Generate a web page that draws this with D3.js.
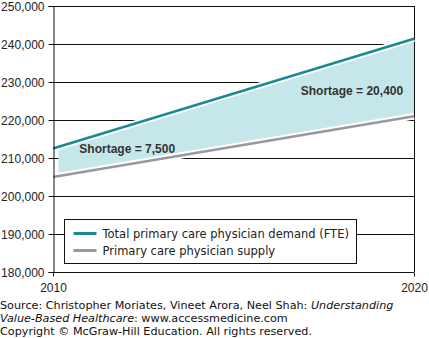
<!DOCTYPE html>
<html>
<head>
<meta charset="utf-8">
<script src="https://cdnjs.cloudflare.com/ajax/libs/d3/7.8.5/d3.min.js"></script>
<style>
  body { margin: 0; background: #fff; }
  svg { display: block; }
  .axis text { font-family: "Liberation Sans", Arial, sans-serif; font-size: 12px; fill: #222; }
  .axis path, .axis line { stroke: #111; }
  .note { font-family: "Liberation Sans", Arial, sans-serif; font-size: 12px; font-weight: bold; fill: #333; }
  .legend text { font-family: "DejaVu Sans", Verdana, sans-serif; font-size: 11.5px; fill: #222; }
  .source { font-family: "DejaVu Sans", Verdana, sans-serif; font-size: 11.2px; fill: #111; }
</style>
</head>
<body>
<svg id="chart" width="429" height="338"></svg>
<script>
var years = [2010, 2020];
var demand = [212500, 241400];
var supply = [205000, 221000];
var yTicks = [180000, 190000, 200000, 210000, 220000, 230000, 240000, 250000];
var shortageLabels = ["Shortage = 7,500", "Shortage = 20,400"];
var legendLabels = ["Total primary care physician demand (FTE)", "Primary care physician supply"];
var colours = ["#198a93", "#999999"];
var fillColour = "#c6e7e9";

var svg = d3.select("#chart"),
  margin = {top: 6, right: 15, bottom: 66, left: 53},
  width = +svg.attr("width") - margin.left - margin.right,
  height = +svg.attr("height") - margin.top - margin.bottom;

var x = d3.scaleLinear().domain([2010, 2020]).range([0, width]);
var y = d3.scaleLinear().domain([180000, 250000]).range([height, 0]);

var g = svg.append("g").attr("transform", "translate(" + margin.left + "," + margin.top + ")");

// pair the two series up by year
var rows = years.map(function(yr, i) { return {year: yr, demand: demand[i], supply: supply[i]}; });

// gridlines across the whole plot
g.append("g").selectAll("line").data(yTicks).enter().append("line")
  .attr("x1", 0).attr("x2", width)
  .attr("y1", function(d) { return Math.round(y(d)) + 0.5; })
  .attr("y2", function(d) { return Math.round(y(d)) + 0.5; })
  .attr("stroke", "#111").attr("stroke-width", 1);

// right edge of the frame
g.append("line")
  .attr("x1", Math.round(x(2020)) + 0.5).attr("x2", Math.round(x(2020)) + 0.5)
  .attr("y1", y(250000)).attr("y2", y(180000))
  .attr("stroke", "#111");

// shaded gap between demand and supply, starting just after the axis
var fillRows = [{year: 2010.15}, {year: 2020}].map(function(d) {
  var t = (d.year - 2010) / 10;
  return {year: d.year,
    demand: demand[0] + t * (demand[1] - demand[0]),
    supply: supply[0] + t * (supply[1] - supply[0])};
});

g.append("path")
  .datum(fillRows)
  .attr("fill", fillColour)
  .attr("d", d3.area()
    .x(function(d) { return x(d.year); })
    .y0(function(d) { return y(d.supply); })
    .y1(function(d) { return y(d.demand); }));

var lineDemand = d3.line().x(function(d) { return x(d.year); }).y(function(d) { return y(d.demand); });
var lineSupply = d3.line().x(function(d) { return x(d.year); }).y(function(d) { return y(d.supply); });

// white halo under each line, then the line itself
[lineDemand, lineSupply].forEach(function(fn, i) {
  g.append("path").datum(rows).attr("d", fn)
    .attr("fill", "none").attr("stroke", "#fff").attr("stroke-width", 6.5);
});
[lineDemand, lineSupply].forEach(function(fn, i) {
  g.append("path").datum(rows).attr("d", fn)
    .attr("fill", "none").attr("stroke", colours[i]).attr("stroke-width", 2.6);
});

// y axis
g.append("g")
  .attr("class", "axis")
  .attr("transform", "translate(0.5,0)")
  .call(d3.axisLeft(y).tickValues(yTicks).tickSize(5).tickPadding(4).tickFormat(d3.format(",")))
  .call(function(a) { a.selectAll("text").attr("dy", "0.35em"); });

// x axis
g.append("g")
  .attr("class", "axis")
  .attr("transform", "translate(0," + (Math.round(height) + 0.5) + ")")
  .call(d3.axisBottom(x).tickValues(years).tickSize(4).tickPadding(7).tickFormat(d3.format("d")))
  .call(function(a) { a.select(".domain").remove(); });

g.append("line")
  .attr("x1", 0).attr("x2", width)
  .attr("y1", Math.round(height) + 0.5).attr("y2", Math.round(height) + 0.5)
  .attr("stroke", "#111");

// shortage annotations
g.append("text").attr("class", "note")
  .attr("x", x(2010.73)).attr("y", y(212400) + 4)
  .text(shortageLabels[0]);
g.append("text").attr("class", "note")
  .attr("x", x(2019.7)).attr("text-anchor", "end").attr("y", y(227600) + 4)
  .text(shortageLabels[1]);

// legend
var legend = g.append("g").attr("class", "legend")
  .attr("transform", "translate(" + (Math.round(x(2010.3)) + 0.5) + "," + (Math.round(y(193900)) + 0.5) + ")");
legend.append("rect")
  .attr("width", 292).attr("height", 44)
  .attr("fill", "#fff").attr("stroke", "#111");
legend.selectAll("g").data(legendLabels).enter().append("g")
  .attr("transform", function(d, i) { return "translate(9," + (14 + i * 17) + ")"; })
  .each(function(d, i) {
    var row = d3.select(this);
    row.append("line").attr("x1", 0).attr("x2", 23)
      .attr("stroke", colours[i]).attr("stroke-width", 3);
    row.append("text").attr("x", 29).attr("dy", "0.36em").text(d);
  });

// source lines under the chart
var src = svg.append("text").attr("class", "source");
var l1 = src.append("tspan").attr("x", 0).attr("y", 309);
l1.append("tspan").text("Source: Christopher Moriates, Vineet Arora, Neel Shah: ");
l1.append("tspan").attr("font-style", "italic").text("Understanding");
var l2 = src.append("tspan").attr("x", 0).attr("y", 322);
l2.append("tspan").attr("font-style", "italic").text("Value-Based Healthcare");
l2.append("tspan").text(": www.accessmedicine.com");
src.append("tspan").attr("x", 0).attr("y", 335).text("Copyright \u00a9 McGraw-Hill Education. All rights reserved.");
</script>
</body>
</html>
